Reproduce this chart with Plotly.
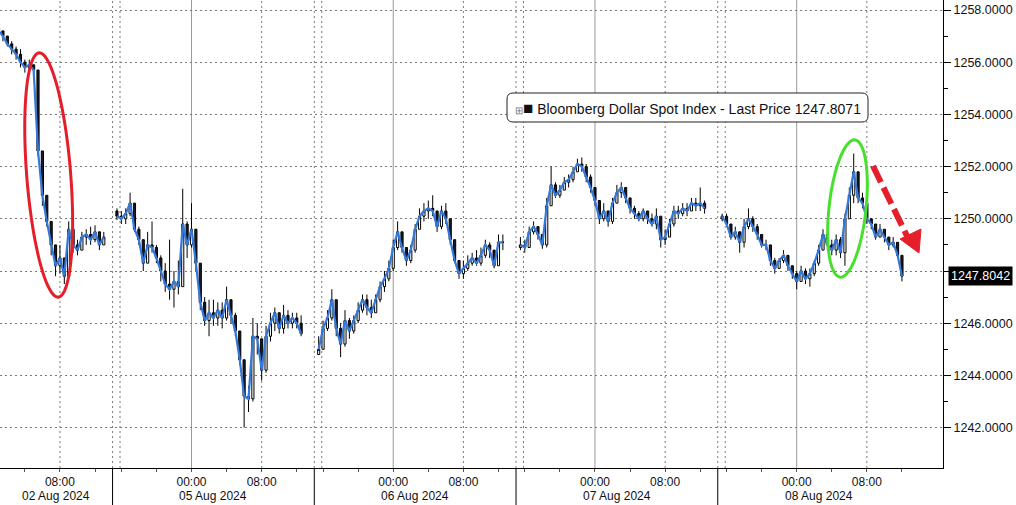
import numpy as np
import plotly.graph_objects as go

# ---------------- data (30-minute bars) ----------------
day_labels = ["02 Aug 2024", "05 Aug 2024", "06 Aug 2024", "07 Aug 2024", "08 Aug 2024"]
first_bar_clock = ["01:00", "15:30", "15:30", "15:30", "15:30"]   # first bar of each session
first_open = [1257.3, 1250.3, 1244.8, 1248.9, 1250.0]

close0 = [1257.2, 1257.0, 1256.7, 1256.5, 1256.3, 1256.0, 1255.8, 1255.9, 1255.7, 1252.6, 1250.9, 1249.9,
          1249.0, 1248.2, 1248.5, 1247.8, 1249.6, 1249.0, 1248.8, 1249.3, 1249.4, 1249.2, 1249.5, 1249.0, 1249.3]
high0 = [1257.4, 1257.2, 1257.0, 1256.8, 1256.6, 1256.5, 1256.1, 1256.1, 1255.9, 1255.7, 1251.5, 1250.8,
         1249.6, 1248.9, 1249.0, 1248.5, 1249.9, 1249.4, 1249.2, 1249.5, 1249.6, 1249.7, 1249.75, 1249.5, 1249.5]
low0 = [1257.0, 1256.8, 1256.6, 1256.3, 1256.1, 1255.8, 1255.6, 1255.6, 1255.5, 1252.4, 1250.5, 1249.7,
        1248.6, 1247.8, 1247.9, 1247.5, 1247.9, 1248.7, 1248.6, 1248.8, 1249.0, 1249.0, 1249.1, 1248.8, 1249.0]

close1 = [1250.1, 1250.0, 1250.2, 1250.6, 1249.6, 1249.2, 1248.3, 1249.0, 1248.9, 1248.5, 1248.0, 1247.5,
          1247.3, 1247.6, 1247.4, 1249.8, 1249.0, 1249.6, 1248.3, 1246.8, 1246.1, 1246.4, 1246.2, 1246.5,
          1246.2, 1246.9, 1246.3, 1245.7, 1244.6, 1243.2, 1243.1, 1245.5, 1245.4, 1244.2, 1245.5, 1246.0,
          1246.4, 1245.8, 1246.3, 1246.0, 1246.2, 1246.0, 1245.6]
high1 = [1250.4, 1250.3, 1250.4, 1251.0, 1250.4, 1249.7, 1249.2, 1249.5, 1249.9, 1249.0, 1248.6, 1248.3,
         1249.2, 1248.0, 1248.4, 1251.15, 1249.9, 1250.6, 1249.4, 1248.0, 1247.0, 1246.9, 1246.9, 1246.8,
         1246.8, 1247.4, 1246.9, 1246.4, 1245.7, 1244.5, 1243.6, 1246.2, 1246.0, 1245.3, 1245.9, 1246.4,
         1246.6, 1246.4, 1246.7, 1246.5, 1246.4, 1246.4, 1246.3]
low1 = [1249.95, 1249.8, 1249.8, 1250.1, 1249.5, 1249.0, 1248.0, 1248.6, 1248.7, 1248.3, 1247.6, 1247.2,
        1246.9, 1246.6, 1247.1, 1247.4, 1248.5, 1248.9, 1248.0, 1246.5, 1245.9, 1245.5, 1245.9, 1245.9,
        1245.8, 1246.1, 1246.0, 1245.5, 1244.4, 1242.0, 1242.6, 1243.0, 1244.8, 1243.8, 1244.1, 1245.3,
        1245.7, 1245.6, 1245.6, 1245.8, 1245.8, 1245.8, 1245.5]

close2 = [1245.0, 1245.8, 1246.2, 1246.9, 1245.8, 1245.2, 1246.1, 1245.7, 1246.1, 1246.5, 1246.9, 1246.6,
          1246.4, 1246.9, 1247.4, 1247.7, 1248.1, 1248.9, 1249.5, 1248.9, 1248.4, 1248.8, 1249.6, 1250.1,
          1250.3, 1250.4, 1250.3, 1249.7, 1250.3, 1250.0, 1249.2, 1248.4, 1247.9, 1248.1, 1248.3, 1248.5,
          1248.3, 1248.6, 1249.0, 1248.8, 1248.2, 1249.1, 1249.1]
high2 = [1245.5, 1246.1, 1246.5, 1247.3, 1246.9, 1246.0, 1246.5, 1246.2, 1246.3, 1246.8, 1247.1, 1247.1,
         1246.9, 1247.1, 1247.6, 1248.0, 1248.4, 1249.2, 1249.9, 1249.5, 1248.9, 1249.0, 1249.8, 1250.4,
         1250.6, 1250.7, 1250.9, 1250.3, 1250.5, 1250.6, 1250.0, 1249.2, 1248.4, 1248.4, 1248.6, 1248.7,
         1248.8, 1248.9, 1249.2, 1249.1, 1248.8, 1249.4, 1249.4]
low2 = [1244.8, 1245.2, 1245.7, 1246.1, 1245.5, 1244.7, 1245.1, 1245.4, 1245.6, 1246.0, 1246.4, 1246.3,
        1246.2, 1246.4, 1246.8, 1247.2, 1247.6, 1248.0, 1248.8, 1248.7, 1248.2, 1248.3, 1248.7, 1249.6,
        1249.9, 1250.0, 1250.1, 1249.5, 1249.6, 1249.8, 1249.0, 1248.3, 1247.7, 1247.7, 1248.0, 1248.2,
        1248.2, 1248.2, 1248.5, 1248.5, 1248.1, 1248.2, 1248.8]

close3 = [1249.0, 1248.9, 1249.5, 1249.7, 1249.4, 1249.0, 1250.5, 1251.3, 1250.9, 1251.1, 1251.4, 1251.5,
          1251.8, 1252.1, 1252.0, 1251.6, 1251.2, 1250.7, 1250.0, 1250.3, 1249.9, 1250.6, 1251.0, 1251.2,
          1250.8, 1250.4, 1250.2, 1250.0, 1250.3, 1250.0, 1249.8, 1250.1, 1249.2, 1249.3, 1249.8, 1250.3,
          1250.2, 1250.4, 1250.3, 1250.6, 1250.5, 1250.6, 1250.4]
high3 = [1249.3, 1249.2, 1249.7, 1249.9, 1249.7, 1249.4, 1250.8, 1252.0, 1251.4, 1251.3, 1251.6, 1251.7,
         1252.0, 1252.3, 1252.35, 1252.1, 1251.7, 1251.2, 1250.7, 1250.6, 1250.2, 1250.8, 1251.3, 1251.4,
         1251.2, 1250.8, 1250.5, 1250.3, 1250.4, 1250.3, 1250.2, 1250.4, 1250.0, 1249.6, 1250.0, 1250.5,
         1250.5, 1250.6, 1250.6, 1250.8, 1250.8, 1251.2, 1250.7]
low3 = [1248.8, 1248.7, 1249.0, 1249.4, 1249.2, 1248.85, 1248.9, 1250.5, 1250.8, 1250.8, 1251.1, 1251.2,
        1251.4, 1251.8, 1251.8, 1251.4, 1251.0, 1250.5, 1249.8, 1249.9, 1249.7, 1249.8, 1250.6, 1250.8,
        1250.6, 1250.2, 1250.0, 1249.9, 1249.9, 1249.8, 1249.7, 1249.6, 1248.9, 1249.0, 1249.3, 1249.7,
        1250.0, 1250.1, 1250.1, 1250.3, 1250.3, 1250.3, 1250.2]

close4 = [1250.1, 1249.8, 1249.3, 1249.5, 1249.1, 1249.7, 1250.0, 1249.7, 1249.4, 1249.0, 1249.0, 1248.4,
          1248.1, 1248.4, 1248.6, 1248.2, 1247.9, 1247.6, 1248.0, 1247.7, 1247.9, 1248.3, 1248.8, 1249.4,
          1249.0, 1248.8, 1249.2, 1248.7, 1250.0, 1250.9, 1251.8, 1250.8, 1250.6, 1250.0, 1249.8, 1249.3,
          1249.6, 1249.3, 1249.0, 1249.1, 1248.6, 1247.8042]
high4 = [1250.2, 1250.2, 1249.8, 1249.7, 1249.5, 1250.0, 1250.4, 1250.1, 1249.8, 1249.4, 1249.2, 1249.0,
         1248.5, 1248.5, 1248.8, 1248.6, 1248.2, 1248.0, 1248.2, 1248.1, 1248.1, 1248.4, 1249.0, 1249.6,
         1249.5, 1249.2, 1249.4, 1249.3, 1250.2, 1251.2, 1252.5, 1251.8, 1251.0, 1250.4, 1250.0, 1249.8,
         1249.8, 1249.6, 1249.3, 1249.3, 1249.0, 1248.6]
low4 = [1249.9, 1249.7, 1249.2, 1249.2, 1248.7, 1248.9, 1249.6, 1249.5, 1249.2, 1248.9, 1248.8, 1248.2,
        1247.9, 1248.1, 1248.3, 1248.0, 1247.7, 1247.3, 1247.6, 1247.5, 1247.4, 1247.8, 1248.2, 1248.8,
        1248.8, 1248.6, 1248.6, 1248.5, 1248.2, 1250.0, 1250.6, 1250.6, 1250.4, 1249.8, 1249.6, 1249.2,
        1249.3, 1249.1, 1248.8, 1248.9, 1248.5, 1247.6]

closes = [close0, close1, close2, close3, close4]
highs = [high0, high1, high2, high3, high4]
lows = [low0, low1, low2, low3, low4]

y_tick_values = [1242, 1244, 1246, 1248, 1250, 1252, 1254, 1256, 1258]
y_hidden_label = 1248          # covered by the last-price tag in the original
last_price_axis = 1247.8042
legend_text = "Bloomberg Dollar Spot Index - Last Price 1247.8071"
x_tick_clock = ["16:00", "20:00", "00:00", "04:00", "08:00", "12:00"]
x_tick_labelled = ["00:00", "08:00"]

# ---------------- session time axis ----------------
# each session = 15:00 (previous day) -> 14:00, i.e. 23 trading hours, sessions laid end-to-end
SESSION = 23.0
BAR = 0.5


def session_pos(k, clock):
    h, m = clock.split(":")
    h = int(h) + int(m) / 60.0
    return k * SESSION + (h - 15.0 if h >= 15 else h + 9.0)


X_RANGE = [session_pos(0, "01:10"), 117.68]
Y_RANGE = [1240.452, 1258.383]
W, H = 1016, 505
PLOT_W, PLOT_H = 943, 468
PXH = PLOT_W / (X_RANGE[1] - X_RANGE[0])
PXV = PLOT_H / (Y_RANGE[1] - Y_RANGE[0])

xs, o_all, h_all, l_all, c_all = [], [], [], [], []
line_x, line_y = [], []
for k in range(5):
    t0 = session_pos(k, first_bar_clock[k])
    c = closes[k]
    o = [first_open[k]] + c[:-1]
    for i in range(len(c)):
        x = t0 + BAR * i
        xs.append(x)
        o_all.append(o[i])
        c_all.append(c[i])
        h_all.append(max(highs[k][i], o[i], c[i]))
        l_all.append(min(lows[k][i], o[i], c[i]))
        line_x.append(x)
        line_y.append(c[i])
    line_x.append(None)
    line_y.append(None)

FONT = "Liberation Sans, Arial, sans-serif"

fig = go.Figure()
fig.add_trace(go.Candlestick(
    x=xs, open=o_all, high=h_all, low=l_all, close=c_all,
    increasing=dict(line=dict(color="#000000", width=1), fillcolor="#ffffff"),
    decreasing=dict(line=dict(color="#000000", width=1), fillcolor="#1a1a2e"),
    whiskerwidth=0, showlegend=False, hoverinfo="skip"))
fig.add_trace(go.Scatter(
    x=line_x, y=line_y, mode="lines", line=dict(color="#3478d8", width=2.2),
    connectgaps=False, showlegend=False, hoverinfo="skip"))
# right-pointing triangles at the labelled y ticks
tri_vals = [v for v in y_tick_values if v != y_hidden_label]
fig.add_trace(go.Scatter(
    x=[X_RANGE[1] + 3.5 / PXH] * len(tri_vals), y=tri_vals, mode="markers",
    marker=dict(symbol="triangle-right", size=7, color="#000000"),
    cliponaxis=False, showlegend=False, hoverinfo="skip"))
# pointer of the last-price tag
fig.add_trace(go.Scatter(
    x=[X_RANGE[1] + 4.5 / PXH], y=[last_price_axis], mode="markers",
    marker=dict(symbol="triangle-left", size=9, color="#000000"),
    cliponaxis=False, showlegend=False, hoverinfo="skip"))

shapes = []
# vertical grid lines
for k in range(5):
    t = session_pos(k, "00:00")
    if X_RANGE[0] < t < X_RANGE[1]:
        shapes.append(dict(type="line", xref="x", yref="paper", x0=t, x1=t, y0=0, y1=1,
                           line=dict(color="#9a9a9a", width=1), layer="below"))
    t = session_pos(k, "08:00")
    shapes.append(dict(type="line", xref="x", yref="paper", x0=t, x1=t, y0=0, y1=1,
                       line=dict(color="#7a7a7a", width=1, dash="2px,3px"), layer="below"))
    if k > 0:
        for t in [k * SESSION, k * SESSION + 0.85]:
            shapes.append(dict(type="line", xref="x", yref="paper", x0=t, x1=t, y0=0, y1=1,
                               line=dict(color="#7a7a7a", width=1, dash="2px,3px"), layer="below"))
        # solid session separators in the time axis band
        shapes.append(dict(type="line", xref="x", yref="paper", x0=k * SESSION, x1=k * SESSION,
                           y0=-0.09, y1=0, line=dict(color="#000000", width=1)))


def px_to_data(px, py):
    return X_RANGE[0] + px / PXH, Y_RANGE[1] - py / PXV


def ellipse_path(cx, cy, a, b, tilt_deg):
    th = np.radians(tilt_deg)
    pts = []
    for ang in np.linspace(0, 2 * np.pi, 91):
        dx, dy = a * np.cos(ang), b * np.sin(ang)
        rx = dx * np.cos(th) - dy * np.sin(th)
        ry = dx * np.sin(th) + dy * np.cos(th)
        pts.append(px_to_data(cx + rx, cy + ry))
    return "M " + " L ".join(f"{x:.4f},{y:.4f}" for x, y in pts) + " Z"


shapes.append(dict(type="path", xref="x", yref="y", path=ellipse_path(48.7, 175, 22, 122.5, -4.5),
                   line=dict(color="#e41f2a", width=3)))
shapes.append(dict(type="path", xref="x", yref="y", path=ellipse_path(847.5, 208.5, 18.5, 69, 6.2),
                   line=dict(color="#48e02c", width=3)))

# red dashed arrow
ax0, ay0 = px_to_data(873, 166)
ax1, ay1 = px_to_data(907, 236)
shapes.append(dict(type="line", xref="x", yref="y", x0=ax0, y0=ay0, x1=ax1, y1=ay1,
                   line=dict(color="#e41f2a", width=6, dash="18px,6px")))
head = [px_to_data(900, 239), px_to_data(921, 229), px_to_data(919, 253)]
shapes.append(dict(type="path", xref="x", yref="y",
                   path="M " + " L ".join(f"{x:.4f},{y:.4f}" for x, y in head) + " Z",
                   fillcolor="#e41f2a", line=dict(color="#e41f2a", width=1)))


# rounded legend box (pixel box -> paper coordinates)
def rounded_box(x0, y0, x1, y1, r):
    def p(px, py):
        return f"{px / PLOT_W:.5f},{1 - py / PLOT_H:.5f}"
    return (f"M {p(x0 + r, y0)} L {p(x1 - r, y0)} Q {p(x1, y0)} {p(x1, y0 + r)} "
            f"L {p(x1, y1 - r)} Q {p(x1, y1)} {p(x1 - r, y1)} L {p(x0 + r, y1)} "
            f"Q {p(x0, y1)} {p(x0, y1 - r)} L {p(x0, y0 + r)} Q {p(x0, y0)} {p(x0 + r, y0)} Z")


shapes.append(dict(type="path", xref="paper", yref="paper", path=rounded_box(507, 93, 868, 122, 6),
                   fillcolor="#ffffff", line=dict(color="#222222", width=1)))

annotations = []
# date labels centred under each session (visible part for the first one)
for k in range(5):
    left = max(k * SESSION, X_RANGE[0])
    right = min((k + 1) * SESSION, X_RANGE[1])
    annotations.append(dict(x=(left + right) / 2, y=-(496 - PLOT_H) / PLOT_H, xref="x", yref="paper",
                            text=day_labels[k], showarrow=False, yanchor="middle",
                            font=dict(family=FONT, size=12, color="#111111")))

annotations.append(dict(
    x=688 / PLOT_W, y=1 - 108 / PLOT_H, xref="paper", yref="paper", showarrow=False,
    text="<span style='color:#777;font-size:10px'>⊞</span><span style='font-size:17px'>■</span> " + legend_text,
    font=dict(family=FONT, size=14, color="#111111"),
    xanchor="center", yanchor="middle"))

annotations.append(dict(
    x=1 + 5 / PLOT_W, y=last_price_axis, xref="paper", yref="y", showarrow=False,
    text="1247.8042", font=dict(family=FONT, size=12.5, color="#ffffff"),
    bgcolor="#000000", borderpad=2, xanchor="left", yanchor="middle"))

# x ticks every 4 hours, labels at 00:00 and 08:00
tickvals, ticktext = [], []
for k in range(5):
    for clk in x_tick_clock:
        t = session_pos(k, clk)
        if clk in ("16:00", "20:00") and k == 0:
            continue
        if X_RANGE[0] <= t <= X_RANGE[1]:
            tickvals.append(t)
            ticktext.append(clk if clk in x_tick_labelled else "")

fig.update_layout(
    width=W, height=H,
    margin=dict(l=0, r=W - PLOT_W, t=0, b=H - PLOT_H),
    paper_bgcolor="#ffffff", plot_bgcolor="#ffffff",
    shapes=shapes, annotations=annotations,
    xaxis=dict(range=X_RANGE, tickmode="array", tickvals=tickvals, ticktext=ticktext,
               showgrid=False, zeroline=False, showline=True, linecolor="#000000", linewidth=1,
               ticks="outside", ticklen=3, tickcolor="#555555",
               tickfont=dict(family=FONT, size=12, color="#111111"),
               rangeslider=dict(visible=False), fixedrange=True),
    yaxis=dict(range=Y_RANGE, side="right", tickmode="array", tickvals=y_tick_values,
               ticktext=["" if v == y_hidden_label else f"{v:.4f}" for v in y_tick_values],
               showgrid=True, gridcolor="#7a7a7a", griddash="2px,3px", gridwidth=1,
               zeroline=False, showline=True, linecolor="#000000", linewidth=1,
               ticks="outside", ticklen=7, tickcolor="#000000",
               minor=dict(ticks="outside", ticklen=4, tickcolor="#000000",
                          tickvals=[v + 1 for v in y_tick_values], showgrid=False),
               tickfont=dict(family=FONT, size=12.5, color="#111111"), fixedrange=True),
)

fig.write_html("out.html", config={"displayModeBar": False},
               post_script="document.body.style.margin='0px';document.body.style.overflow='hidden';")
